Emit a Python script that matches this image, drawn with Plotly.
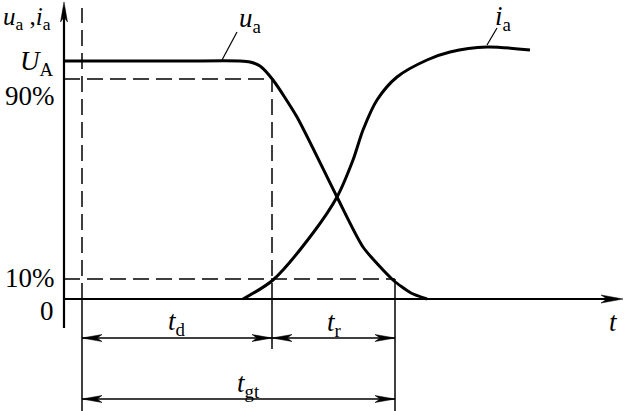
import plotly.graph_objects as go

# Schematic units: t along the time axis, value along the vertical axis (axis origin = 0,0)
ua_t = [0, 120, 176, 186, 196, 209, 233, 273, 299, 329, 347, 363]
ua_v = [238, 238, 238, 237, 233, 219, 182, 102, 52, 19, 6, 0]
ia_t = [179, 209, 249, 273, 289, 299, 313, 333, 363, 386, 423, 466]
ia_v = [0, 19, 66, 102, 139, 169, 199, 222, 239, 247, 252, 249]

# key instants and levels
t_start, t_90, t_10 = 18, 208, 331
lvl_UA, lvl_90, lvl_10 = 238, 220, 20
level_labels = ["<i>U</i><sub>A</sub>", "90%", "10%", "0"]

FONT = "Liberation Serif, Times New Roman, DejaVu Serif, serif"
X0, X1, Y0, Y1 = -64, 560, -112, 299

fig = go.Figure()
fig.add_trace(go.Scatter(x=ua_t, y=ua_v, mode="lines",
                         line=dict(color="black", width=3, shape="spline", smoothing=0.6),
                         hoverinfo="skip"))
fig.add_trace(go.Scatter(x=ia_t, y=ia_v, mode="lines",
                         line=dict(color="black", width=3, shape="spline", smoothing=0.8),
                         hoverinfo="skip"))

shapes = []
def line(x0, y0, x1, y1, w=1.5, dash=None):
    d = dict(type="line", x0=x0, y0=y0, x1=x1, y1=y1, xref="x", yref="y",
             line=dict(color="black", width=w))
    if dash:
        d["line"]["dash"] = dash
    shapes.append(d)

def arrow(xt, yt, dx, dy, L=20, hw=3.5, notch=5):
    px, py = -dy, dx
    bx, by = xt - dx * L, yt - dy * L
    nx, ny = xt - dx * (L - notch), yt - dy * (L - notch)
    path = (f"M{xt},{yt} L{bx + px*hw},{by + py*hw} L{nx},{ny} "
            f"L{bx - px*hw},{by - py*hw} Z")
    shapes.append(dict(type="path", path=path, xref="x", yref="y",
                       fillcolor="black", line=dict(color="black", width=0.5)))

DASH = "16px,7px"
# axes
line(0, -29, 0, 290, w=2.2)
arrow(0, 297, 0, 1, L=20, hw=3.5, notch=5)
line(0, 0, 552, 0, w=2)
arrow(559, 0, 1, 0, L=22, hw=4, notch=6)

# dashed guides
line(t_start, 0, t_start, 291, dash=DASH)
line(t_start, 0, t_start, Y0, w=1.5)
line(0, lvl_90, t_90, lvl_90, dash=DASH)
line(t_90, 0, t_90, lvl_90, dash=DASH)
line(t_90, 0, t_90, -50, w=1.5)
line(0, lvl_10, t_10, lvl_10, dash=DASH)
line(t_10, lvl_10, t_10, Y0, w=1.5)

# dimension lines
y_dim1, y_dim2 = -39, -100
line(t_start, y_dim1, t_10, y_dim1, w=1.5)
arrow(t_start, y_dim1, -1, 0)
arrow(t_90, y_dim1, 1, 0)
arrow(t_90, y_dim1, -1, 0)
arrow(t_10, y_dim1, 1, 0)
line(t_start, y_dim2, t_10, y_dim2, w=1.5)
arrow(t_start, y_dim2, -1, 0)
arrow(t_10, y_dim2, 1, 0)

# leader lines
line(158, 239, 173, 267, w=1.2)
line(423, 254, 433, 271, w=1.2)

fig.update_layout(shapes=shapes)

def text(x, y, s, size=27, xanchor="center", yanchor="middle"):
    fig.add_annotation(x=x, y=y, text=s, showarrow=False, xref="x", yref="y",
                       xanchor=xanchor, yanchor=yanchor,
                       font=dict(family=FONT, size=size, color="black"))

text(-63, 298, "<i>u</i><sub>a</sub> ,<i>i</i><sub>a</sub>", size=25,
     xanchor="left", yanchor="top")
text(-8, 236, level_labels[0], xanchor="right")
text(-7, 203, level_labels[1], xanchor="right")
text(-7, 21, level_labels[2], xanchor="right")
text(-8, -12, level_labels[3], xanchor="right")
text(186, 279, "<i>u</i><sub>a</sub>")
text(439, 281, "<i>i</i><sub>a</sub>")
text(549, -23, "<i>t</i>")
text(113, -24, "<i>t</i><sub>d</sub>")
text(270, -25, "<i>t</i><sub>r</sub>")
text(184, -86, "<i>t</i><sub>gt</sub>")

fig.update_layout(
    width=624, height=411,
    margin=dict(l=0, r=0, t=0, b=0),
    paper_bgcolor="white", plot_bgcolor="white",
    showlegend=False,
    xaxis=dict(range=[X0, X1], visible=False, fixedrange=True),
    yaxis=dict(range=[Y0, Y1], visible=False, fixedrange=True),
)
fig.write_html("out.html", config={"displayModeBar": False},
               post_script="document.body.style.margin='0';")
